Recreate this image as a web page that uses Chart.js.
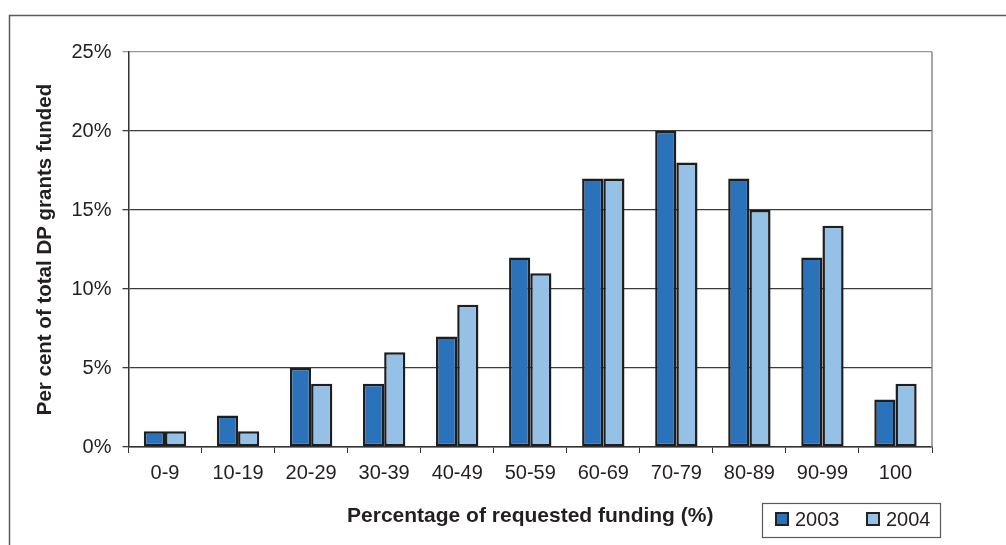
<!DOCTYPE html>
<html>
<head>
<meta charset="utf-8">
<script src="https://cdn.jsdelivr.net/npm/chart.js@4/dist/chart.umd.min.js"></script>
<style>
  html, body { margin: 0; padding: 0; background: #fff; }
  #wrap { width: 1006px; height: 545px; position: relative; }
</style>
</head>
<body>
<div id="wrap"><canvas id="grantChart"></canvas></div>
<script>
(function () {
  'use strict';

  // funding bands and share of grants per year (%)
  const categories = ['0-9', '10-19', '20-29', '30-39', '40-49', '50-59', '60-69', '70-79', '80-89', '90-99', '100'];
  const grants2003 = [1, 2, 5, 4, 7, 12, 17, 20, 17, 12, 3];
  const grants2004 = [1, 1, 4, 6, 9, 11, 17, 18, 15, 14, 4];
  const yTicks = [0, 5, 10, 15, 20, 25];

  const FONT = '"Liberation Sans", Arial, sans-serif';
  Chart.defaults.font.family = FONT;
  Chart.defaults.color = '#231f20';

  // outer frame, right plot border and the boxed legend
  const decor = {
    id: 'decor',
    afterDraw(chart) {
      const ctx = chart.ctx;
      const area = chart.chartArea;
      ctx.save();
      ctx.strokeStyle = '#5a5a5a';
      ctx.lineWidth = 1.5;
      ctx.beginPath();
      ctx.moveTo(9.5, 545);
      ctx.lineTo(9.5, 15.5);
      ctx.lineTo(1006, 15.5);
      ctx.stroke();

      ctx.strokeStyle = '#8a8a8a';
      ctx.lineWidth = 1.5;
      ctx.beginPath();
      ctx.moveTo(area.right, area.top);
      ctx.lineTo(area.right, area.bottom);
      ctx.stroke();

      // legend
      ctx.strokeStyle = '#5a5a5a';
      ctx.lineWidth = 1.2;
      ctx.strokeRect(762.5, 503.5, 178, 34);
      const items = chart.data.datasets;
      const xs = [776, 867];
      ctx.font = '20px ' + FONT;
      ctx.textBaseline = 'middle';
      items.forEach(function (ds, i) {
        ctx.fillStyle = ds.backgroundColor;
        ctx.fillRect(xs[i], 513, 12, 12);
        ctx.strokeStyle = '#222';
        ctx.lineWidth = 2;
        ctx.strokeRect(xs[i], 513, 12, 12);
        ctx.fillStyle = '#231f20';
        ctx.fillText(ds.label, xs[i] + 19, 520);
      });
      ctx.restore();
    }
  };

  const ctx = document.getElementById('grantChart').getContext('2d');
  new Chart(ctx, {
    type: 'bar',
    data: {
      labels: categories,
      datasets: [
        { label: '2003', data: grants2003, backgroundColor: '#2a72b9' },
        { label: '2004', data: grants2004, backgroundColor: '#96c1e7' }
      ]
    },
    options: {
      responsive: true,
      maintainAspectRatio: false,
      animation: false,
      layout: { padding: { left: 0, top: 52, right: 74, bottom: 0 } },
      datasets: {
        bar: {
          barPercentage: 1,
          categoryPercentage: 0.58,
          borderColor: '#1e1e1e',
          borderWidth: 2.5,
          borderSkipped: false
        }
      },
      plugins: {
        legend: { display: false },
        tooltip: { enabled: false }
      },
      scales: {
        x: {
          afterFit(scale) { scale.height = 98; },
          border: { color: '#333', width: 1.5 },
          grid: { offset: true, drawOnChartArea: false, drawTicks: true, tickLength: 6, color: '#333' },
          ticks: { font: { size: 20 }, padding: 8, maxRotation: 0 },
          title: {
            display: true,
            text: 'Percentage of requested funding (%)',
            font: { size: 21, weight: 'bold' },
            padding: { top: 0, bottom: 16 }
          }
        },
        y: {
          min: 0,
          max: 25,
          afterFit(scale) { scale.width = 128.5; },
          afterBuildTicks(scale) { scale.ticks = yTicks.map(v => ({ value: v })); },
          border: { color: '#333', width: 1.5 },
          grid: {
            tickLength: 6,
            lineWidth: 1.3,
            color: c => (c.tick && c.tick.value === 25 ? '#999' : '#3c3c3c')
          },
          ticks: { font: { size: 20 }, padding: 11, callback: v => v + '%' },
          title: {
            display: true,
            text: 'Per cent of total DP grants funded',
            font: { size: 20.5, weight: 'bold' },
            padding: { top: 33, bottom: 0 }
          }
        }
      }
    },
    plugins: [decor]
  });
})();
</script>
</body>
</html>
